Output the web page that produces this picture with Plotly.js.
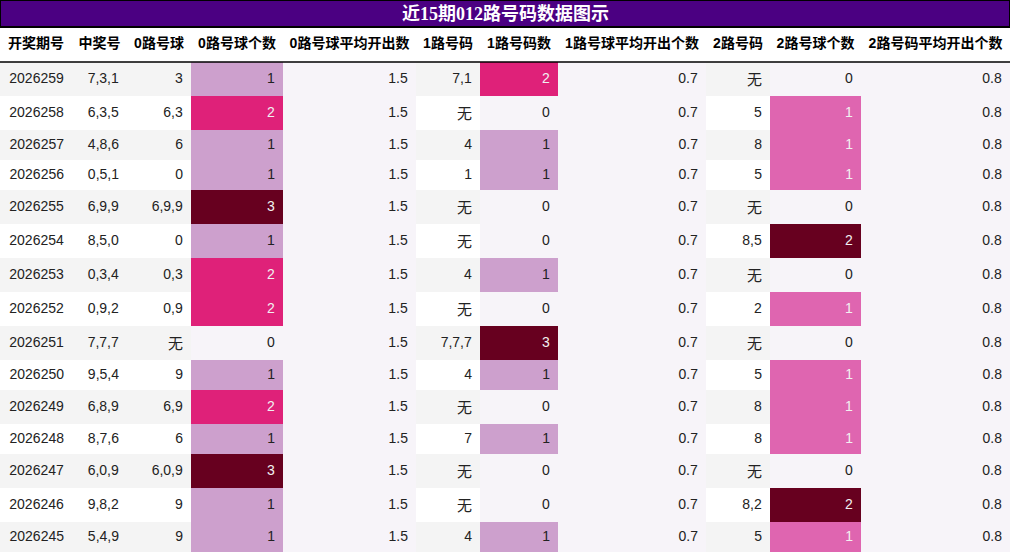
<!DOCTYPE html>
<html>
<head>
<meta charset="utf-8">
<script src="https://cdn.plot.ly/plotly-3.0.1.min.js"></script>
<style>
  html, body { margin: 0; padding: 0; background: #fff; }
  #myDiv { width: 1010px; height: 554px; }
</style>
</head>
<body>
<div id="myDiv"></div>
<script>
// 近15期数据
var periods = ['2026259', '2026258', '2026257', '2026256', '2026255', '2026254', '2026253', '2026252',
               '2026251', '2026250', '2026249', '2026248', '2026247', '2026246', '2026245'];
var winning = ['7,3,1', '6,3,5', '4,8,6', '0,5,1', '6,9,9', '8,5,0', '0,3,4', '0,9,2',
               '7,7,7', '9,5,4', '6,8,9', '8,7,6', '6,0,9', '9,8,2', '5,4,9'];
var road0 = ['3', '6,3', '6', '0', '6,9,9', '0', '0,3', '0,9', '无', '9', '6,9', '6', '6,0,9', '9', '9'];
var road0Count = [1, 2, 1, 1, 3, 1, 2, 2, 0, 1, 2, 1, 3, 1, 1];
var road0Avg = [1.5, 1.5, 1.5, 1.5, 1.5, 1.5, 1.5, 1.5, 1.5, 1.5, 1.5, 1.5, 1.5, 1.5, 1.5];
var road1 = ['7,1', '无', '4', '1', '无', '无', '4', '无', '7,7,7', '4', '无', '7', '无', '无', '4'];
var road1Count = [2, 0, 1, 1, 0, 0, 1, 0, 3, 1, 0, 1, 0, 0, 1];
var road1Avg = [0.7, 0.7, 0.7, 0.7, 0.7, 0.7, 0.7, 0.7, 0.7, 0.7, 0.7, 0.7, 0.7, 0.7, 0.7];
var road2 = ['无', '5', '8', '5', '无', '8,5', '无', '2', '无', '5', '8', '8', '无', '8,2', '5'];
var road2Count = [0, 1, 1, 1, 0, 2, 0, 1, 0, 1, 1, 1, 0, 2, 1];
var road2Avg = [0.8, 0.8, 0.8, 0.8, 0.8, 0.8, 0.8, 0.8, 0.8, 0.8, 0.8, 0.8, 0.8, 0.8, 0.8];

var headers = ['开奖期号', '中奖号', '0路号球', '0路号球个数', '0路号球平均开出数', '1路号码', '1路号码数',
               '1路号球平均开出个数', '2路号码', '2路号球个数', '2路号码平均开出个数'];
var colWidths = [72, 55, 64, 92, 133, 64, 78, 148, 64, 91, 149];

// PuRd scale, like a pandas background_gradient
var purd = ['#f7f4f9', '#e7e1ef', '#d4b9da', '#c994c7', '#df65b0', '#e7298a', '#ce1256', '#980043', '#67001f'];

function hex2rgb(h) {
  return [parseInt(h.substr(1, 2), 16), parseInt(h.substr(3, 2), 16), parseInt(h.substr(5, 2), 16)];
}
function purdColor(t) {
  t = Math.max(0, Math.min(1, t));
  var pos = t * (purd.length - 1);
  var i = Math.min(Math.floor(pos), purd.length - 2);
  var f = pos - i;
  var a = hex2rgb(purd[i]), b = hex2rgb(purd[i + 1]);
  var c = a.map(function (v, k) { return Math.round(v + (b[k] - v) * f); });
  return 'rgb(' + c.join(',') + ')';
}

var rowFill = periods.map(function (p, i) { return i % 2 === 0 ? '#f4f4f4' : '#ffffff'; });
var darkText = '#222222';
var lightText = '#f1f1f1';
var plainText = periods.map(function () { return darkText; });

function gradFill(vals) {
  var mn = Math.min.apply(null, vals), mx = Math.max.apply(null, vals);
  return vals.map(function (v) { return purdColor(mx === mn ? 0 : (v - mn) / (mx - mn)); });
}
function gradText(vals) {
  var mn = Math.min.apply(null, vals), mx = Math.max.apply(null, vals);
  return vals.map(function (v) { return (mx > mn && (v - mn) / (mx - mn) >= 0.5) ? lightText : darkText; });
}

var latin = 'Liberation Sans, Noto Sans CJK SC, sans-serif';
var cjkFont = 'Lato, Noto Sans CJK SC, sans-serif';
// rows holding a '无' are taller (CJK line box); push the other texts of those rows down
var tallRow = periods.map(function (p, i) { return road0[i] === '无' || road1[i] === '无' || road2[i] === '无'; });

// a trailing <br> keeps plotly from splitting the tag at its space
function shifted(s, px) {
  return '<span style="baseline-shift:-' + px + 'px">' + s + '</span><br>';
}
function show(arr) {
  return arr.map(function (s, i) {
    if (s === '无') return '<span>无</span>';
    if (tallRow[i]) return shifted(s, 4);
    return s;
  });
}
function fams(arr) {
  return arr.map(function (s) { return s === '无' ? cjkFont : latin; });
}
function sizes(arr) {
  return arr.map(function (s) { return s === '无' ? 15 : 14; });
}

var columns = [periods, winning, road0, road0Count, road0Avg, road1, road1Count, road1Avg,
               road2, road2Count, road2Avg];
var fills = [rowFill, rowFill, rowFill, gradFill(road0Count), gradFill(road0Avg), rowFill, gradFill(road1Count),
             gradFill(road1Avg), rowFill, gradFill(road2Count), gradFill(road2Avg)];
var textColors = [plainText, plainText, plainText, gradText(road0Count), plainText, plainText, gradText(road1Count),
                  plainText, plainText, gradText(road2Count), plainText];

var titleH = 27, headerBottom = 62, H = 554;

var table = {
  type: 'table',
  domain: {x: [0, 1], y: [0, 1 - titleH / H]},
  columnwidth: colWidths,
  header: {
    values: headers.map(function (h) { return shifted('<b>' + h + '</b>', 2); }),
    align: 'center',
    height: 35,
    fill: {color: '#ffffff'},
    line: {width: 0, color: '#ffffff'},
    font: {family: latin, size: 14, color: '#000000'}
  },
  cells: {
    values: columns.map(show),
    align: 'right',
    height: 30,
    fill: {color: fills},
    line: {width: 0, color: '#ffffff'},
    font: {family: columns.map(fams), size: columns.map(sizes), color: textColors}
  }
};

var layout = {
  width: 1010,
  height: 554,
  margin: {l: 0, r: 0, t: 0, b: 0},
  paper_bgcolor: '#ffffff',
  shapes: [
    {type: 'rect', xref: 'paper', yref: 'paper', x0: 0, x1: 1, y0: 1 - titleH / H, y1: 1,
     fillcolor: '#4b0082', line: {color: '#000000', width: 2}},
    {type: 'line', xref: 'paper', yref: 'paper', x0: 0, x1: 1,
     y0: 1 - headerBottom / H, y1: 1 - headerBottom / H, line: {color: '#000000', width: 1.5}}
  ],
  annotations: [
    {xref: 'paper', yref: 'paper', x: 0.5, y: 1 - titleH / 2 / H, xanchor: 'center', yanchor: 'middle',
     showarrow: false,
     text: '<b>近15期012路号码数据图示</b>',
     font: {family: 'Liberation Serif, Noto Sans CJK SC, serif', size: 18, color: '#ffffff'}}
  ]
};

Plotly.newPlot('myDiv', [table], layout, {displayModeBar: false});
</script>
</body>
</html>
